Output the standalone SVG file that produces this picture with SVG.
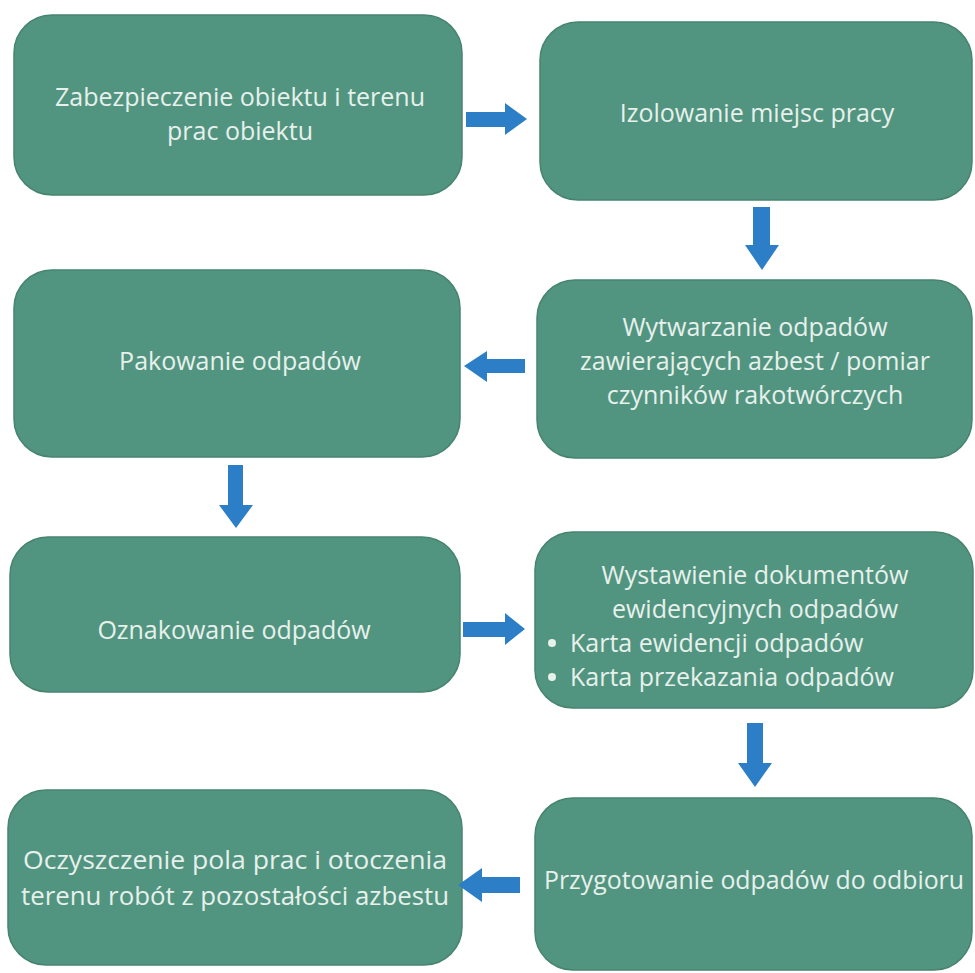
<svg xmlns="http://www.w3.org/2000/svg" width="975" height="973" viewBox="0 0 975 973">
<style>
.box{fill:#519580;stroke:#47846f;stroke-width:1.5}
.t{font-family:"Open Sans","Noto Sans","DejaVu Sans",sans-serif;font-size:25px;fill:#e8f0ec;text-anchor:middle}
.tl{font-family:"Open Sans","Noto Sans","DejaVu Sans",sans-serif;font-size:25px;fill:#e8f0ec;text-anchor:start}
.arrow{fill:#2c7fc6}
</style>
<rect width="975" height="973" fill="#ffffff"/>
<g id="node1"><rect class="box" x="14" y="15" width="448" height="180" rx="38"/>
<text class="t" x="240" y="106">Zabezpieczenie obiektu i terenu</text>
<text class="t" x="240" y="140">prac obiektu</text></g>
<g id="node2"><rect class="box" x="540" y="22" width="432" height="178" rx="38"/>
<text class="t" x="757" y="122">Izolowanie miejsc pracy</text></g>
<g id="node3"><rect class="box" x="14" y="270" width="446" height="187" rx="38"/>
<text class="t" x="240" y="370">Pakowanie odpadów</text></g>
<g id="node4"><rect class="box" x="537" y="280" width="435" height="178" rx="38"/>
<text class="t" x="755" y="336">Wytwarzanie odpadów</text>
<text class="t" x="755" y="370">zawierających azbest / pomiar</text>
<text class="t" x="755" y="404">czynników rakotwórczych</text></g>
<g id="node5"><rect class="box" x="10" y="537" width="450" height="155" rx="38"/>
<text class="t" x="234" y="639">Oznakowanie odpadów</text></g>
<g id="node6"><rect class="box" x="535" y="532" width="438" height="176" rx="38"/>
<text class="t" x="755" y="584">Wystawienie dokumentów</text>
<text class="t" x="755" y="618">ewidencyjnych odpadów</text>
<circle cx="552" cy="643" r="4" fill="#e8f0ec"/>
<text class="tl" x="570" y="652">Karta ewidencji odpadów</text>
<circle cx="552" cy="677" r="4" fill="#e8f0ec"/>
<text class="tl" x="570" y="686">Karta przekazania odpadów</text></g>
<g id="node7"><rect class="box" x="8" y="790" width="454" height="175" rx="38"/>
<text class="t" x="235" y="869" textLength="424" lengthAdjust="spacingAndGlyphs">Oczyszczenie pola prac i otoczenia</text>
<text class="t" x="235" y="905" textLength="428" lengthAdjust="spacingAndGlyphs">terenu robót z pozostałości azbestu</text></g>
<g id="node8"><rect class="box" x="535" y="798" width="437" height="172" rx="38"/>
<text class="t" x="754" y="889" textLength="420" lengthAdjust="spacingAndGlyphs">Przygotowanie odpadów do odbioru</text></g>
<g id="connectors">
<polygon class="arrow" points="466,112 505,112 505,103 527,119 505,135 505,127 466,127"/>
<polygon class="arrow" points="753,207 770,207 770,245 779,245 762,270 745,245 753,245"/>
<polygon class="arrow" points="525,359 487,359 487,351 464,366 487,382 487,373 525,373"/>
<polygon class="arrow" points="228,465 243,465 243,505 253,505 236,528 219,505 228,505"/>
<polygon class="arrow" points="463,622 505,622 505,613 525,629 505,645 505,637 463,637"/>
<polygon class="arrow" points="747,723 763,723 763,763 772,763 755,787 738,763 747,763"/>
<polygon class="arrow" points="520,877 482,877 482,868 458,885 482,902 482,893 520,893"/>
</g>
</svg>
